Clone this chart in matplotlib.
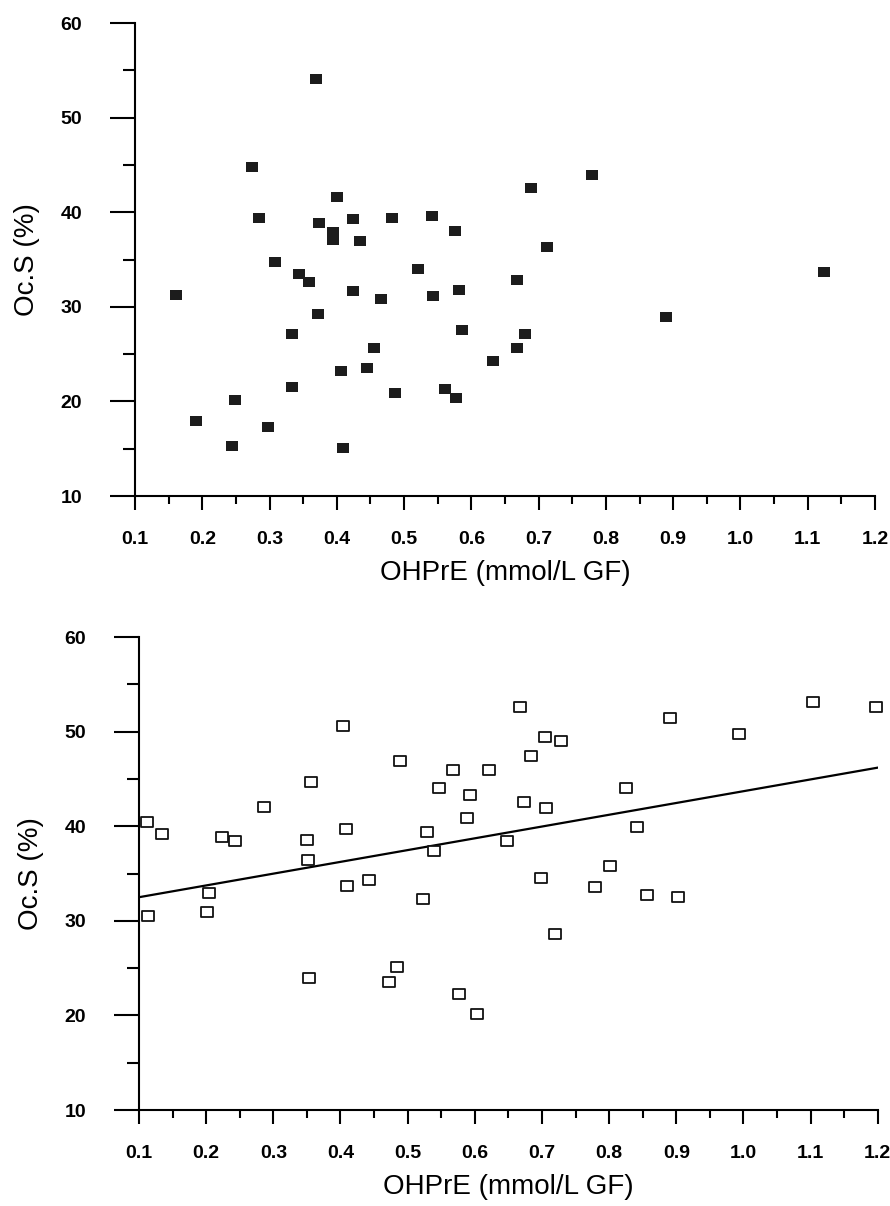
import numpy as np
import matplotlib
matplotlib.use("Agg")
import matplotlib.pyplot as plt
from matplotlib.path import Path

# Grupo superior (cuadrados rellenos)
ohpre_a = [0.369, 0.274, 0.400, 0.284, 0.373, 0.424, 0.482, 0.541, 0.394, 0.394,
           0.434, 0.308, 0.344, 0.359, 0.521, 0.424, 0.161, 0.466, 0.543, 0.779,
           0.688, 0.575, 0.712, 1.124, 0.668, 0.581, 0.372, 0.333, 0.455, 0.406,
           0.445, 0.333, 0.486, 0.561, 0.249, 0.191, 0.297, 0.244, 0.409, 0.889,
           0.586, 0.680, 0.668, 0.632, 0.577]
ocs_a = [54.1, 44.8, 41.6, 39.4, 38.9, 39.3, 39.4, 39.6, 37.9, 37.1,
         37.0, 34.7, 33.5, 32.6, 34.0, 31.7, 31.2, 30.8, 31.1, 43.9,
         42.6, 38.0, 36.3, 33.7, 32.8, 31.8, 29.2, 27.1, 25.6, 23.2,
         23.5, 21.5, 20.9, 21.3, 20.1, 17.9, 17.3, 15.3, 15.1, 28.9,
         27.5, 27.1, 25.7, 24.3, 20.4]

# Grupo inferior (cuadrados vacíos)
ohpre_b = [0.404, 0.488, 0.356, 0.547, 0.286, 0.112, 0.134, 0.223, 0.243, 0.350,
           0.408, 0.529, 0.352, 0.540, 0.409, 0.442, 0.523, 0.204, 0.201, 0.114,
           0.353, 0.484, 0.472, 0.667, 0.890, 1.104, 1.197, 0.994, 0.704, 0.729,
           0.683, 0.567, 0.621, 0.593, 0.825, 0.673, 0.706, 0.588, 0.841, 0.648,
           0.802, 0.698, 0.779, 0.856, 0.902, 0.719, 0.576, 0.604]
ocs_b = [50.6, 46.9, 44.7, 44.0, 42.0, 40.4, 39.2, 38.9, 38.4, 38.5,
         39.7, 39.4, 36.4, 37.4, 33.7, 34.3, 32.3, 32.9, 30.9, 30.5,
         24.0, 25.1, 23.5, 52.6, 51.4, 53.1, 52.6, 49.7, 49.4, 49.0,
         47.4, 45.9, 45.9, 43.3, 44.0, 42.6, 41.9, 40.9, 39.9, 38.4,
         35.8, 34.5, 33.6, 32.7, 32.5, 28.6, 22.3, 20.1]

# Recta de regresión del grupo inferior
intercepto_b = 31.25
pendiente_b = 12.45

x_ticks = np.arange(1, 13) / 10
y_ticks = [10, 20, 30, 40, 50, 60]

# marcador rectangular algo más ancho que alto
rect = Path([(-0.5, -0.4), (0.5, -0.4), (0.5, 0.4), (-0.5, 0.4), (-0.5, -0.4)],
            [Path.MOVETO, Path.LINETO, Path.LINETO, Path.LINETO, Path.CLOSEPOLY])

fuente_ticks = {"family": "Liberation Sans", "weight": "bold", "size": 14}
fuente_ejes = {"family": "Liberation Sans", "size": 20}


def preparar_ejes(ax):
    ax.set_xlim(0.1, 1.2)
    ax.set_ylim(10, 60)
    for lado in ["top", "right"]:
        ax.spines[lado].set_visible(False)
    for lado in ["left", "bottom"]:
        ax.spines[lado].set_linewidth(1.5)
    ax.set_xticks(x_ticks)
    ax.set_xticks(x_ticks[:-1] + 0.05, minor=True)
    ax.set_yticks(y_ticks)
    ax.set_yticks(np.array(y_ticks[:-1]) + 5, minor=True)
    ax.set_xticklabels([f"{v:.1f}" for v in x_ticks], fontdict=fuente_ticks)
    ax.set_yticklabels([str(v) for v in y_ticks], fontdict=fuente_ticks)
    ax.tick_params(axis="x", which="major", length=10, width=1.5, pad=15)
    ax.tick_params(axis="x", which="minor", length=6, width=1.5)
    ax.tick_params(axis="y", which="major", length=18, width=1.5, pad=20)
    ax.tick_params(axis="y", which="minor", length=9, width=1.5)
    ax.set_xlabel("OHPrE (mmol/L GF)", fontdict=fuente_ejes, labelpad=9)
    ax.set_ylabel("Oc.S (%)", fontdict=fuente_ejes, labelpad=15)


fig = plt.figure(figsize=(8.9, 12.06), dpi=100)
ax1 = fig.add_axes([0.1517, 0.5887, 0.8315, 0.3922])
ax2 = fig.add_axes([0.1562, 0.0796, 0.8300, 0.3922])

ax1.plot(ohpre_a, ocs_a, linestyle="none", marker=rect, markersize=8.5,
         color="#1c1c1c", markeredgewidth=0, clip_on=False)
preparar_ejes(ax1)

xr = np.array([0.1, 1.2])
ax2.plot(xr, intercepto_b + pendiente_b * xr, color="black", linewidth=1.6)
ax2.plot(ohpre_b, ocs_b, linestyle="none", marker=rect, markersize=8.5,
         markerfacecolor="white", markeredgecolor="#111111", markeredgewidth=1.3,
         clip_on=False)
preparar_ejes(ax2)

fig.savefig("out.png", dpi=100)
